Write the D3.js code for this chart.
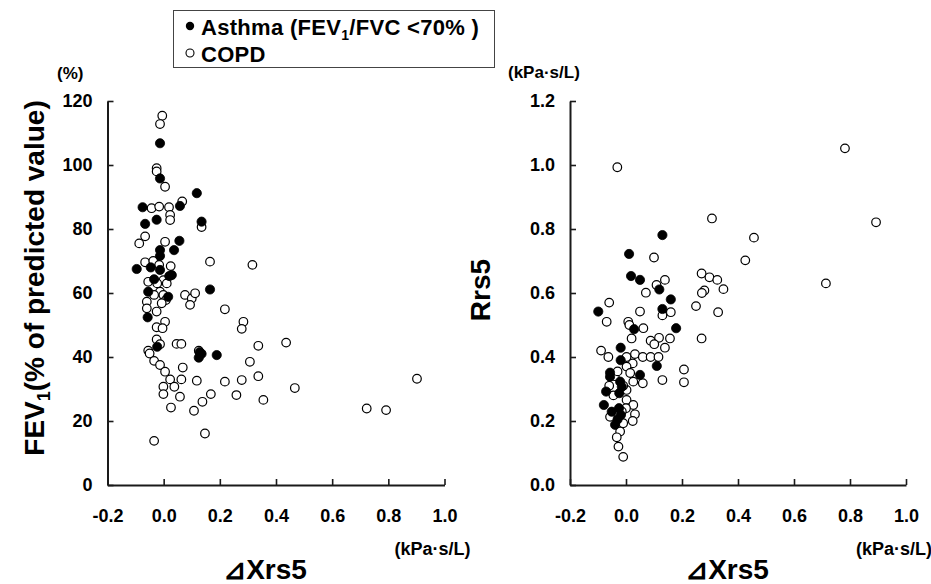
<!DOCTYPE html>
<html>
<head>
<meta charset="utf-8">
<script src="https://cdn.jsdelivr.net/npm/d3@7"></script>
<style>
  body { margin: 0; background: #fff; }
  svg text { font-family: "Liberation Sans", Arial, sans-serif; font-weight: bold; fill: #000; }
  .tick text { font-size: 18px; }
</style>
</head>
<body>
<svg id="chart" width="931" height="584"></svg>
<script>
// ---- Data ----
const xTicks = [-0.2, 0.0, 0.2, 0.4, 0.6, 0.8, 1.0];
const fevTicks = [0, 20, 40, 60, 80, 100, 120];
const rrsTicks = [0.0, 0.2, 0.4, 0.6, 0.8, 1.0, 1.2];

// Left panel: [ΔXrs5, FEV1 %pred]
const fevAsthma = [
  [-0.013,106.8],[-0.013,95.8],[0.118,91.2],[0.058,87.2],[-0.075,86.8],[-0.025,82.9],
  [0.135,82.3],[-0.066,81.6],[0.056,76.3],[-0.013,73.4],[0.037,73.4],[-0.013,71.6],
  [-0.096,67.5],[-0.046,68.0],[-0.013,67.2],[0.029,65.6],[0.020,65.3],[-0.034,64.3],
  [-0.055,60.4],[0.165,61.1],[0.016,58.8],[-0.057,52.4],[-0.023,43.2],[0.128,41.5],
  [0.125,39.8],[0.135,41.0],[0.189,40.6]
];
const fevCOPD = [
  [-0.005,115.4],[-0.013,112.8],[-0.025,99.0],[-0.025,98.0],[0.005,93.2],[0.066,88.6],
  [-0.043,86.5],[-0.016,87.0],[0.019,86.8],[0.023,84.4],[0.023,82.8],[0.135,80.6],
  [-0.066,77.7],[-0.087,75.5],[0.005,76.0],[0.165,69.8],[-0.066,69.6],[-0.037,70.0],
  [-0.016,68.8],[0.025,68.4],[-0.055,63.5],[-0.001,64.0],[0.011,63.0],[-0.023,63.0],
  [-0.013,60.4],[-0.001,59.4],[0.008,57.8],[-0.007,56.8],[0.076,59.4],[0.100,58.3],
  [0.112,59.9],[0.094,56.3],[0.218,54.9],[-0.034,59.4],[-0.060,57.3],[-0.060,55.2],
  [-0.025,54.2],[0.005,51.0],[-0.025,49.3],[-0.004,49.0],[0.046,44.1],[0.063,44.1],
  [-0.025,45.5],[-0.013,44.0],[-0.055,42.0],[-0.050,41.1],[-0.034,38.8],[-0.013,37.5],
  [0.005,35.4],[0.068,36.7],[0.023,33.0],[0.063,33.0],[-0.001,30.7],[0.038,30.7],
  [-0.001,28.4],[0.058,27.6],[0.026,24.2],[0.125,42.0],[0.118,32.6],[0.168,28.4],
  [0.138,26.0],[0.108,23.2],[0.147,16.1],[-0.034,13.8],[0.218,32.3],[0.259,28.1],
  [0.316,68.8],[0.284,51.0],[0.278,48.8],[0.337,43.5],[0.436,44.5],[0.307,38.5],
  [0.278,32.8],[0.337,34.0],[0.355,26.6],[0.467,30.3],[0.723,23.9],[0.792,23.4],
  [0.902,33.2]
];

// Right panel: [ΔXrs5, Rrs5]
const rrsAsthma = [
  [0.130,0.781],[0.011,0.722],[0.018,0.653],[0.050,0.641],[0.119,0.611],[0.160,0.580],
  [-0.099,0.542],[0.130,0.550],[0.179,0.490],[0.029,0.487],[-0.019,0.429],[-0.019,0.390],
  [0.110,0.372],[-0.057,0.351],[-0.057,0.338],[0.050,0.344],[-0.021,0.323],[-0.015,0.307],
  [-0.024,0.287],[-0.071,0.292],[-0.079,0.250],[-0.051,0.229],[-0.018,0.219],[-0.030,0.205],
  [-0.039,0.188],[-0.025,0.240]
];
const rrsCOPD = [
  [-0.031,0.993],[0.782,1.052],[0.307,0.833],[0.893,0.821],[0.457,0.773],[0.100,0.711],
  [0.426,0.702],[0.270,0.661],[0.298,0.649],[0.326,0.641],[0.348,0.612],[0.280,0.608],
  [0.271,0.600],[0.329,0.540],[0.270,0.458],[0.714,0.630],[0.139,0.641],[0.109,0.625],
  [0.071,0.601],[-0.060,0.570],[0.250,0.559],[0.050,0.542],[0.160,0.540],[0.130,0.530],
  [-0.069,0.510],[0.008,0.510],[0.012,0.500],[0.062,0.490],[0.020,0.458],[0.088,0.451],
  [0.118,0.460],[0.157,0.458],[0.101,0.440],[0.139,0.429],[-0.089,0.420],[-0.063,0.400],
  [0.002,0.400],[0.032,0.409],[0.060,0.400],[0.088,0.400],[0.116,0.400],[0.024,0.380],
  [0.002,0.370],[0.207,0.361],[0.130,0.328],[0.207,0.321],[0.060,0.318],[0.026,0.323],
  [0.002,0.297],[0.002,0.266],[0.026,0.250],[0.032,0.221],[-0.057,0.213],[0.024,0.200],
  [-0.010,0.193],[-0.021,0.167],[-0.033,0.149],[-0.027,0.120],[-0.010,0.088],[-0.040,0.340],
  [-0.030,0.355],[-0.010,0.310],[-0.045,0.280],[0.000,0.240],[-0.015,0.230],[-0.060,0.310],
  [0.015,0.350]
];

// ---- Drawing ----
const svg = d3.select("#chart");
const panels = [
  { xr: [107.5, 444.5], yd: [0, 120], yt: fevTicks, fmt: d3.format("d"), asthma: fevAsthma, copd: fevCOPD },
  { xr: [570, 906], yd: [0, 1.2], yt: rrsTicks, fmt: d3.format(".1f"), asthma: rrsAsthma, copd: rrsCOPD }
];
panels.forEach(p => {
  p.x = d3.scaleLinear().domain([-0.2, 1.0]).range(p.xr);
  p.y = d3.scaleLinear().domain(p.yd).range([485, 101]);
});

panels.forEach(p => {
  const xa = svg.append("g").attr("transform", "translate(0,485)")
    .call(d3.axisBottom(p.x).tickValues(xTicks)
      .tickFormat(d => d3.format(".1f")(d).replace("\u2212", "-"))
      .tickSizeInner(-6).tickSizeOuter(0).tickPadding(24));
  const ya = svg.append("g").attr("transform", `translate(${p.xr[0]},0)`)
    .call(d3.axisLeft(p.y).tickValues(p.yt).tickFormat(p.fmt)
      .tickSizeInner(-6).tickSizeOuter(0).tickPadding(15));
  [xa, ya].forEach(a => {
    a.select(".domain").attr("stroke", "#1a1a1a").attr("stroke-width", 2);
    a.selectAll(".tick line").attr("stroke", "#1a1a1a").attr("stroke-width", 1.6);
  });
});

panels.forEach(p => {
  svg.append("g").selectAll("circle").data(p.copd).join("circle")
    .attr("cx", d => p.x(d[0])).attr("cy", d => p.y(d[1])).attr("r", 4.3)
    .attr("fill", "#fff").attr("stroke", "#000").attr("stroke-width", 1.2);
  svg.append("g").selectAll("circle").data(p.asthma).join("circle")
    .attr("cx", d => p.x(d[0])).attr("cy", d => p.y(d[1])).attr("r", 4.6)
    .attr("fill", "#000").attr("stroke", "#000").attr("stroke-width", 0.8);
});

svg.append("text").attr("x", 57).attr("y", 79).style("font-size", "17px").text("(%)");
svg.append("text").attr("x", 508).attr("y", 78).style("font-size", "17px").text("(kPa\u00B7s/L)");
const yl = svg.append("text").attr("transform", "translate(44,278) rotate(-90)")
  .attr("text-anchor", "middle").style("font-size", "28px");
yl.append("tspan").text("FEV");
yl.append("tspan").attr("dy", 6).style("font-size", "18px").text("1");
yl.append("tspan").attr("dy", -6).text("(% of predicted value)");
svg.append("text").attr("transform", "translate(490,290) rotate(-90)")
  .attr("text-anchor", "middle").style("font-size", "28px").text("Rrs5");
panels.forEach(p => {
  svg.append("text").attr("x", p.xr[1] - 50).attr("y", 555)
    .style("font-size", "18px").text("(kPa\u00B7s/L)");
  svg.append("text").attr("x", (p.xr[0] + p.xr[1]) / 2 - 11).attr("y", 579)
    .attr("text-anchor", "middle").style("font-size", "28px").text("\u22BFXrs5");
});

const lg = svg.append("g");
lg.append("rect").attr("x", 173.5).attr("y", 10.5).attr("width", 321).attr("height", 57)
  .attr("fill", "none").attr("stroke", "#444").attr("stroke-width", 1);
lg.append("circle").attr("cx", 190).attr("cy", 26).attr("r", 4.2).attr("fill", "#000");
lg.append("circle").attr("cx", 190).attr("cy", 53).attr("r", 4).attr("fill", "#fff")
  .attr("stroke", "#000").attr("stroke-width", 1.1);
const lt = lg.append("text").attr("x", 201).attr("y", 35)
  .style("font-size", "22px").style("letter-spacing", "0.3px");
lt.append("tspan").text("Asthma (FEV");
lt.append("tspan").attr("dy", 5).style("font-size", "14px").text("1");
lt.append("tspan").attr("dy", -5).text("/FVC <70% )");
lg.append("text").attr("x", 201).attr("y", 62).style("font-size", "22px")
  .style("letter-spacing", "0.3px").text("COPD");
</script>
</body>
</html>
